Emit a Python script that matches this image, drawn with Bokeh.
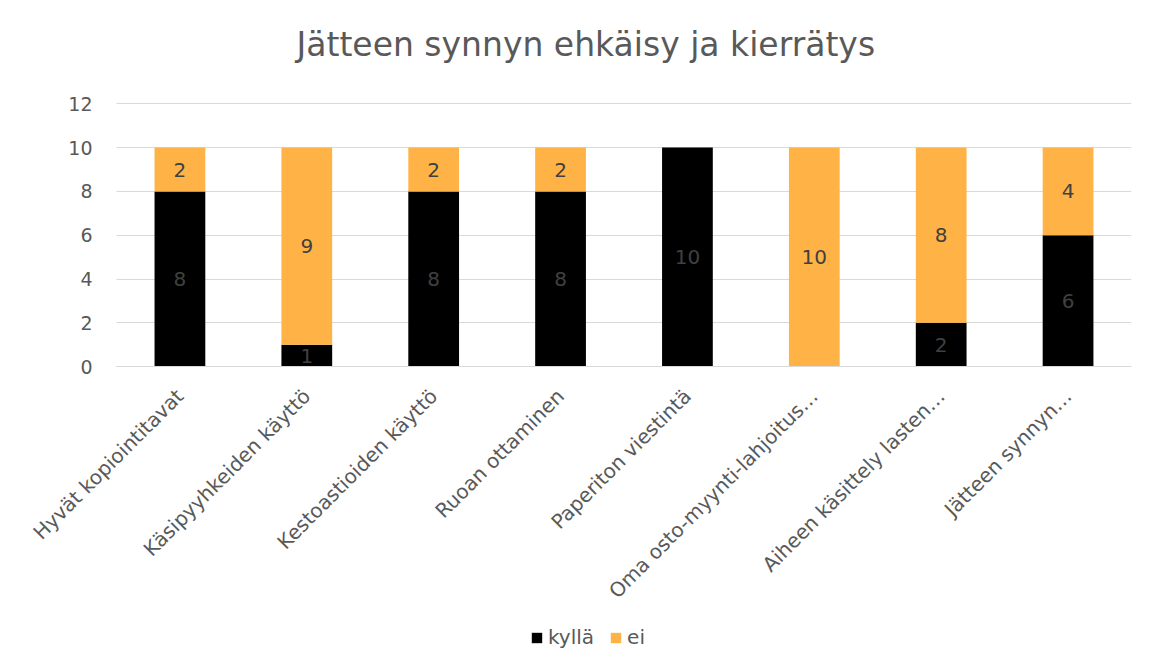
from bokeh.plotting import figure
from bokeh.models import ColumnDataSource, Legend, LegendItem, Range1d, FixedTicker
from bokeh.core.properties import value
from bokeh.embed import file_html
from bokeh.resources import INLINE
import math

categories = ["Hyvät kopiointitavat", "Käsipyyhkeiden käyttö", "Kestoastioiden käyttö",
              "Ruoan ottaminen", "Paperiton viestintä", "Oma osto-myynti-lahjoitus…",
              "Aiheen käsittely lasten…", "Jätteen synnyn…"]
kylla = [8, 1, 8, 8, 10, 0, 2, 6]
ei = [2, 9, 2, 2, 0, 10, 8, 4]
series_names = ["kyllä", "ei"]
y_ticks = [0, 2, 4, 6, 8, 10, 12]
title_text = "Jätteen synnyn ehkäisy ja kierrätys"

FONT = "DejaVu Sans"
GREY = "#595959"
LABEL_GREY = "#404040"
BLACK = "#000000"
ORANGE = "#FFB347"
GRID = "#D9D9D9"

xs = list(range(len(categories)))
source = ColumnDataSource(dict(x=xs, kylla=kylla, ei=ei))

# frame extended left/below/above so rotated category labels, tick labels and the legend live inside it
p = figure(x_range=Range1d(-1.225, len(categories) - 0.5), y_range=Range1d(-13.0, 13.2),
           frame_width=1107, frame_height=574, output_backend="svg", toolbar_location=None,
           min_border_left=24, min_border_right=5, min_border_top=77, min_border_bottom=5)

renderers = p.vbar_stack(["kylla", "ei"], x="x", width=0.4, source=source,
                         color=[BLACK, ORANGE], line_color=None)

# data labels
lx, ly, lt = [], [], []
for i, k, e in zip(xs, kylla, ei):
    if k:
        lx.append(i); ly.append(k / 2); lt.append(str(k))
for i, k, e in zip(xs, kylla, ei):
    if e:
        lx.append(i); ly.append(k + e / 2); lt.append(str(e))
lab_src = ColumnDataSource(dict(x=lx, y=ly, t=lt))
p.text(x="x", y="y", text="t", source=lab_src, text_align="center", text_baseline="middle",
       text_font=value(FONT), text_font_size="20px", text_color=LABEL_GREY)

# title
p.title.text = title_text
p.title.align = "left"
p.title.offset = 272
p.title.text_font = FONT
p.title.text_font_size = "33px"
p.title.text_font_style = "normal"
p.title.text_color = GREY
p.title.standoff = 28

# axes
p.yaxis.fixed_location = -0.5
p.yaxis.ticker = FixedTicker(ticks=y_ticks)
p.yaxis.axis_line_color = None
p.yaxis.major_tick_line_color = None
p.yaxis.minor_tick_line_color = None
p.yaxis.major_label_text_font = FONT
p.yaxis.major_label_text_font_size = "19px"
p.yaxis.major_label_text_color = GREY
p.yaxis.major_label_standoff = 18

p.xaxis.fixed_location = 0
p.xaxis.bounds = (-0.5, len(categories) - 0.5)
p.xaxis.ticker = FixedTicker(ticks=xs)
p.xaxis.major_label_overrides = {i: c for i, c in zip(xs, categories)}
p.xaxis.axis_line_color = GRID
p.xaxis.major_tick_line_color = None
p.xaxis.minor_tick_line_color = None
p.xaxis.major_label_orientation = math.pi / 4
p.xaxis.major_label_text_font = FONT
p.xaxis.major_label_text_font_size = "20px"
p.xaxis.major_label_text_color = GREY
p.xaxis.major_label_standoff = 20

p.xgrid.grid_line_color = None
p.ygrid.grid_line_color = GRID
p.ygrid.grid_line_width = 1
p.ygrid.ticker = FixedTicker(ticks=y_ticks)
yg = p.ygrid[0]
if "cross_bounds" in yg.properties():
    yg.cross_bounds = (-0.5, len(categories) - 0.5)
p.outline_line_color = None

legend = Legend(items=[LegendItem(label=series_names[0], renderers=[renderers[0]]),
                       LegendItem(label=series_names[1], renderers=[renderers[1]])],
                orientation="horizontal", location=(506, 2))
legend.label_text_font = FONT
legend.label_text_font_size = "20px"
legend.label_text_color = GREY
legend.glyph_width = 13
legend.glyph_height = 13
legend.label_standoff = 5
legend.spacing = 15
legend.padding = 0
legend.margin = 0
legend.border_line_color = None
legend.background_fill_alpha = 0
p.add_layout(legend, "center")

open("out.html", "w").write(file_html(p, INLINE))
